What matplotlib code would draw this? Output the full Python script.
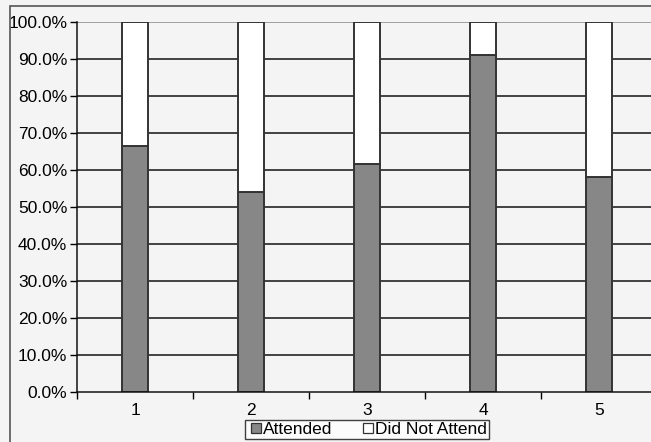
import matplotlib
matplotlib.use("Agg")
import matplotlib.pyplot as plt
import numpy as np
from matplotlib.lines import Line2D
from matplotlib.patches import Rectangle
from matplotlib.ticker import FixedLocator, PercentFormatter

categories = ["1", "2", "3", "4", "5"]
attended = [66.5, 54.0, 61.5, 91.0, 58.0]
did_not_attend = [100 - a for a in attended]

BG = "#f4f4f4"
plt.rcParams["font.family"] = ["Liberation Sans", "DejaVu Sans"]

fig = plt.figure(figsize=(6.51, 4.42), dpi=100, facecolor=BG)
# outer chart border
fig.patches.append(Rectangle((10 / 651, -0.1), 1.2, 1 - 6 / 442 + 0.1,
                             transform=fig.transFigure, fill=False,
                             edgecolor="#555555", linewidth=1.2))

ax = fig.add_axes([77 / 651, 50 / 442, 580 / 651, 370 / 442], facecolor=BG)
x = np.arange(1, len(categories) + 1)

ax.set_ylim(0, 100)
ax.set_xlim(0.5, 5.5)
ax.set_yticks(np.arange(0, 101, 10))
ax.yaxis.set_major_formatter(PercentFormatter(decimals=1))
for y in range(10, 100, 10):
    ax.axhline(y, color="#111111", linewidth=1.1, zorder=1)
ax.axhline(100, color="#888888", linewidth=1.1, zorder=1)

w = 0.23
ax.bar(x, attended, width=w, color="#878787", edgecolor="#333333",
       linewidth=1.4, zorder=3)
ax.bar(x, did_not_attend, width=w, bottom=attended, color="white",
       edgecolor="#333333", linewidth=1.4, zorder=3)

ax.set_xticks(x)
ax.set_xticklabels(categories)
ax.xaxis.set_minor_locator(FixedLocator(np.arange(0.5, 6, 1)))
ax.tick_params(axis="x", which="major", length=0, pad=8, labelsize=12.5)
ax.tick_params(axis="x", which="minor", length=5, width=1, direction="out")
ax.tick_params(axis="y", length=5, width=1, direction="out", labelsize=12.5, pad=2)

for s in ["top", "right"]:
    ax.spines[s].set_visible(False)
for s in ["left", "bottom"]:
    ax.spines[s].set_color("#111111")
    ax.spines[s].set_linewidth(1.1)
    ax.spines[s].set_zorder(4)

# square legend keys like the spreadsheet style
handles = [
    Line2D([], [], linestyle="none", marker="s", markersize=6.5,
           markerfacecolor="#878787", markeredgecolor="#333333", markeredgewidth=0.9),
    Line2D([], [], linestyle="none", marker="s", markersize=6.5,
           markerfacecolor="white", markeredgecolor="#333333", markeredgewidth=0.9),
]
leg = fig.legend(handles, ["Attended", "Did Not Attend"], loc="lower center",
                 bbox_to_anchor=(367 / 651, 3 / 442), ncol=2, fontsize=12.5,
                 frameon=True, fancybox=False, handlelength=1.0,
                 handletextpad=-0.1, columnspacing=1.6, borderpad=0.1,
                 borderaxespad=0)
leg.get_frame().set_edgecolor("#111111")
leg.get_frame().set_facecolor("white")
leg.get_frame().set_linewidth(1.0)

fig.savefig("out.png", dpi=100, facecolor=BG)
